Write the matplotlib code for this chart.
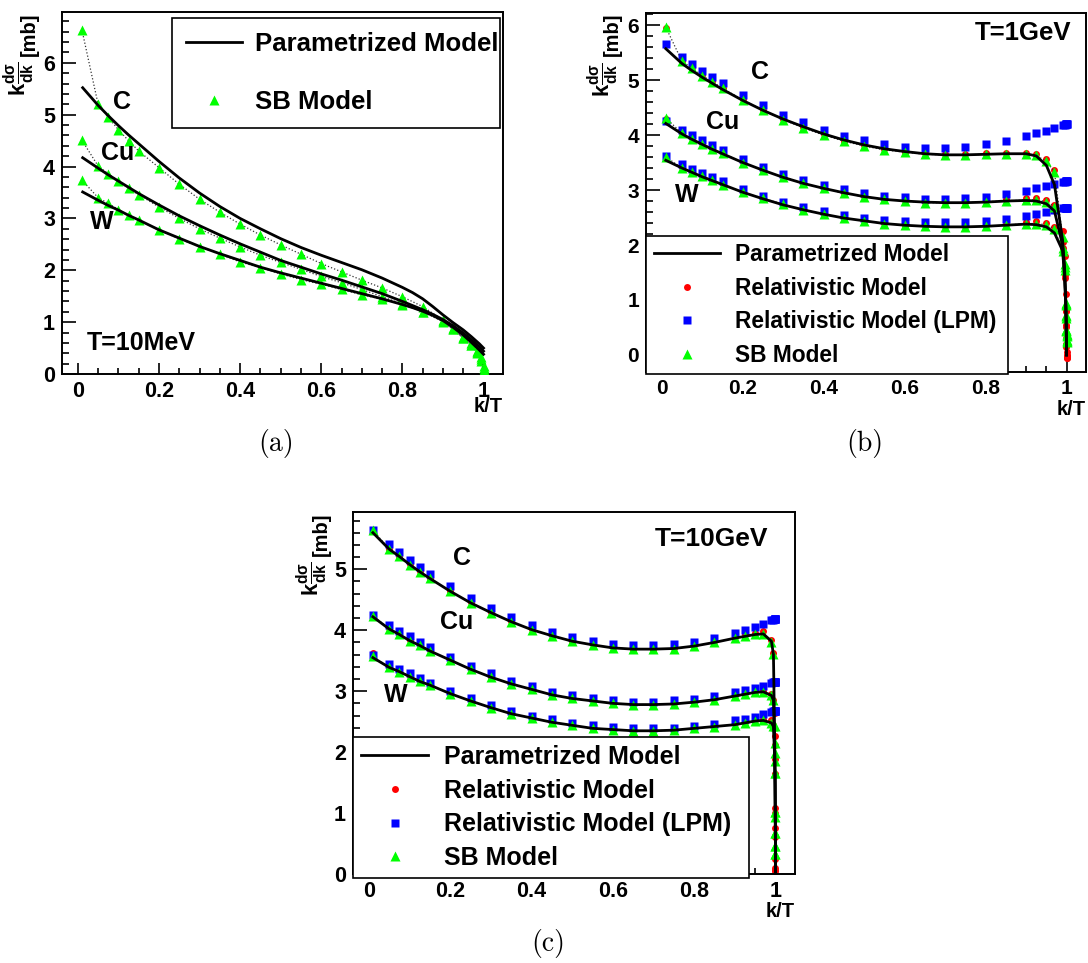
import matplotlib
matplotlib.use("Agg")
import matplotlib.pyplot as plt
from matplotlib.lines import Line2D
from matplotlib.ticker import MultipleLocator, FuncFormatter

plt.rcParams["font.family"] = ["Liberation Sans", "DejaVu Sans"]
plt.rcParams["font.weight"] = "bold"
plt.rcParams["axes.labelweight"] = "bold"
plt.rcParams["mathtext.fontset"] = "custom"
plt.rcParams["mathtext.rm"] = "Liberation Sans:bold"
plt.rcParams["mathtext.it"] = "Liberation Sans:bold"
plt.rcParams["mathtext.bf"] = "Liberation Sans:bold"
plt.rcParams["axes.linewidth"] = 1.4

elements = ["C", "Cu", "W"]

# -------------------- (a) T=10MeV --------------------
x_line_a = [0.012, 0.05, 0.075, 0.1, 0.125, 0.15, 0.2, 0.25, 0.3, 0.35, 0.4, 0.45, 0.5,
            0.55, 0.6, 0.65, 0.7, 0.75, 0.8, 0.825, 0.85, 0.875, 0.9, 0.925, 0.95,
            0.97, 0.99, 1.0]
param_a = {
    "C":  [5.52, 5.18, 4.98, 4.79, 4.61, 4.44, 4.10, 3.78, 3.49, 3.23, 3.00, 2.80, 2.61,
           2.44, 2.29, 2.15, 2.01, 1.85, 1.67, 1.57, 1.45, 1.30, 1.14, 0.99, 0.85,
           0.72, 0.58, 0.50],
    "Cu": [4.17, 3.97, 3.84, 3.72, 3.60, 3.48, 3.26, 3.05, 2.86, 2.68, 2.51, 2.35, 2.19,
           2.06, 1.93, 1.81, 1.68, 1.55, 1.40, 1.32, 1.24, 1.15, 1.05, 0.93, 0.79,
           0.66, 0.52, 0.44],
    "W":  [3.51, 3.35, 3.25, 3.16, 3.06, 2.97, 2.78, 2.62, 2.46, 2.32, 2.19, 2.06, 1.95,
           1.85, 1.75, 1.65, 1.55, 1.45, 1.34, 1.28, 1.21, 1.13, 1.03, 0.90, 0.75,
           0.61, 0.46, 0.38],
}
x_pts_a = [0.01, 0.05, 0.075, 0.1, 0.125, 0.15, 0.2, 0.25, 0.3, 0.35, 0.4, 0.45, 0.5,
           0.55, 0.6, 0.65, 0.7, 0.75, 0.8, 0.85, 0.9, 0.925, 0.95, 0.97, 0.985, 0.995, 1.0]
sb_a = {
    "C":  [6.64, 5.20, 4.95, 4.71, 4.50, 4.30, 3.98, 3.66, 3.37, 3.12, 2.89, 2.68, 2.49,
           2.31, 2.13, 1.97, 1.81, 1.66, 1.49, 1.30, 1.04, 0.88, 0.69, 0.55, 0.42, 0.25, 0.08],
    "Cu": [4.51, 4.01, 3.86, 3.72, 3.58, 3.46, 3.22, 3.00, 2.80, 2.62, 2.45, 2.29, 2.15,
           2.02, 1.88, 1.76, 1.63, 1.49, 1.35, 1.20, 1.01, 0.86, 0.71, 0.60, 0.45, 0.32, 0.15],
    "W":  [3.74, 3.40, 3.29, 3.17, 3.06, 2.97, 2.77, 2.61, 2.45, 2.31, 2.16, 2.05, 1.93,
           1.82, 1.73, 1.63, 1.53, 1.44, 1.34, 1.20, 1.02, 0.86, 0.69, 0.55, 0.40, 0.28, 0.12],
}

# -------------------- (b) T=1GeV --------------------
x_b = [0.01, 0.05, 0.075, 0.1, 0.125, 0.15, 0.2, 0.25, 0.3, 0.35, 0.4, 0.45, 0.5, 0.55,
       0.6, 0.65, 0.7, 0.75, 0.8, 0.85, 0.9, 0.925, 0.95, 0.97, 0.99, 0.995, 0.998,
       0.999, 0.9995, 0.9999, 1.0]
param_b = {
    "C":  [5.57, 5.30, 5.17, 5.05, 4.94, 4.83, 4.63, 4.45, 4.29, 4.15, 4.02, 3.91, 3.82,
           3.75, 3.70, 3.66, 3.64, 3.64, 3.65, 3.66, 3.66, 3.62, 3.45, 3.10, 2.10, 1.60,
           1.00, 0.60, 0.30, 0.05, 0.0],
    "Cu": [4.21, 4.02, 3.92, 3.83, 3.74, 3.66, 3.50, 3.36, 3.23, 3.12, 3.03, 2.95, 2.88,
           2.83, 2.80, 2.78, 2.77, 2.77, 2.78, 2.80, 2.81, 2.80, 2.75, 2.62, 2.00, 1.50,
           0.95, 0.60, 0.30, 0.05, 0.0],
    "W":  [3.54, 3.40, 3.32, 3.24, 3.17, 3.10, 2.96, 2.84, 2.73, 2.64, 2.56, 2.49, 2.44,
           2.39, 2.36, 2.34, 2.33, 2.33, 2.34, 2.36, 2.38, 2.37, 2.33, 2.22, 1.90, 1.45,
           0.90, 0.60, 0.30, 0.05, 0.0],
}
rel_b = {
    "C":  [5.95, 5.35, 5.23, 5.09, 4.98, 4.86, 4.65, 4.46, 4.29, 4.14, 4.01, 3.90, 3.81,
           3.74, 3.70, 3.67, 3.66, 3.66, 3.67, 3.68, 3.68, 3.66, 3.56, 3.37, 2.25, 1.80,
           1.10, 0.80, 0.30, 0.05, -0.06],
    "Cu": [4.30, 4.04, 3.94, 3.85, 3.76, 3.68, 3.51, 3.37, 3.25, 3.13, 3.04, 2.95, 2.89,
           2.84, 2.81, 2.79, 2.79, 2.79, 2.81, 2.83, 2.85, 2.85, 2.82, 2.72, 2.05, 1.45,
           0.85, 0.55, 0.20, 0.0, -0.04],
    "W":  [3.61, 3.41, 3.34, 3.26, 3.19, 3.11, 2.97, 2.86, 2.75, 2.65, 2.57, 2.50, 2.45,
           2.40, 2.37, 2.36, 2.35, 2.35, 2.36, 2.38, 2.42, 2.43, 2.40, 2.32, 1.95, 1.40,
           0.80, 0.50, 0.15, -0.02, -0.05],
}
lpm_b = {
    "C":  [5.65, 5.42, 5.30, 5.17, 5.05, 4.94, 4.72, 4.54, 4.37, 4.23, 4.10, 3.99, 3.91,
           3.84, 3.79, 3.76, 3.77, 3.79, 3.83, 3.89, 3.98, 4.03, 4.08, 4.13, 4.18, 4.19,
           4.20, 4.20, 4.21, 4.21, 4.21],
    "Cu": [4.25, 4.10, 4.00, 3.91, 3.82, 3.73, 3.57, 3.42, 3.30, 3.19, 3.09, 3.01, 2.94,
           2.90, 2.87, 2.84, 2.84, 2.85, 2.88, 2.93, 2.99, 3.03, 3.07, 3.11, 3.15, 3.15,
           3.16, 3.16, 3.16, 3.16, 3.16],
    "W":  [3.61, 3.47, 3.39, 3.31, 3.24, 3.16, 3.02, 2.90, 2.79, 2.70, 2.62, 2.55, 2.50,
           2.45, 2.43, 2.41, 2.41, 2.42, 2.44, 2.48, 2.53, 2.57, 2.60, 2.64, 2.67, 2.67,
           2.67, 2.67, 2.67, 2.67, 2.67],
}
sb_b = {
    "C":  [5.96, 5.34, 5.22, 5.08, 4.97, 4.85, 4.64, 4.45, 4.28, 4.13, 4.00, 3.89, 3.80,
           3.73, 3.69, 3.65, 3.64, 3.64, 3.65, 3.66, 3.65, 3.63, 3.52, 3.33, 2.15, 1.65,
           0.95, 0.72, 0.46, 0.38, 0.27],
    "Cu": [4.31, 4.03, 3.93, 3.84, 3.75, 3.67, 3.50, 3.36, 3.24, 3.12, 3.03, 2.94, 2.88,
           2.83, 2.80, 2.77, 2.77, 2.77, 2.79, 2.80, 2.82, 2.82, 2.79, 2.70, 1.95, 1.60,
           0.92, 0.70, 0.45, 0.36, 0.25],
    "W":  [3.60, 3.40, 3.33, 3.25, 3.18, 3.10, 2.96, 2.85, 2.74, 2.64, 2.56, 2.49, 2.44,
           2.39, 2.36, 2.34, 2.33, 2.33, 2.34, 2.36, 2.39, 2.39, 2.37, 2.29, 1.90, 1.55,
           0.90, 0.68, 0.44, 0.35, 0.24],
}

# -------------------- (c) T=10GeV --------------------
x_c = [0.01, 0.05, 0.075, 0.1, 0.125, 0.15, 0.2, 0.25, 0.3, 0.35, 0.4, 0.45, 0.5, 0.55,
       0.6, 0.65, 0.7, 0.75, 0.8, 0.85, 0.9, 0.925, 0.95, 0.97, 0.99, 0.995, 0.998,
       0.999, 0.9995, 0.9999, 1.0]
param_c = {
    "C":  [5.60, 5.33, 5.21, 5.08, 4.96, 4.85, 4.64, 4.45, 4.29, 4.14, 4.01, 3.91, 3.82,
           3.76, 3.71, 3.69, 3.69, 3.70, 3.74, 3.80, 3.87, 3.90, 3.93, 3.94, 3.82, 3.60,
           2.20, 1.60, 1.00, 0.40, 0.0],
    "Cu": [4.22, 4.02, 3.93, 3.83, 3.75, 3.66, 3.51, 3.36, 3.23, 3.12, 3.03, 2.94, 2.88,
           2.84, 2.80, 2.78, 2.78, 2.79, 2.82, 2.86, 2.92, 2.95, 2.98, 2.99, 2.93, 2.85,
           2.00, 1.50, 1.00, 0.40, 0.0],
    "W":  [3.55, 3.39, 3.32, 3.24, 3.16, 3.10, 2.96, 2.84, 2.73, 2.63, 2.56, 2.49, 2.44,
           2.39, 2.37, 2.35, 2.35, 2.36, 2.39, 2.42, 2.45, 2.48, 2.51, 2.52, 2.48, 2.42,
           1.90, 1.45, 0.95, 0.40, 0.0],
}
rel_c = {
    "C":  [5.63, 5.34, 5.22, 5.08, 4.97, 4.86, 4.65, 4.46, 4.30, 4.15, 4.02, 3.92, 3.83,
           3.77, 3.72, 3.70, 3.70, 3.71, 3.75, 3.82, 3.89, 3.93, 3.96, 3.98, 3.84, 3.63,
           2.26, 1.64, 1.09, 0.63, 0.07],
    "Cu": [4.25, 4.03, 3.94, 3.84, 3.76, 3.67, 3.52, 3.37, 3.24, 3.13, 3.04, 2.95, 2.89,
           2.85, 2.81, 2.79, 2.79, 2.80, 2.83, 2.88, 2.94, 2.97, 3.00, 3.01, 2.96, 2.86,
           2.12, 1.88, 0.76, 0.25, 0.05],
    "W":  [3.62, 3.40, 3.33, 3.25, 3.17, 3.11, 2.97, 2.85, 2.74, 2.64, 2.57, 2.50, 2.45,
           2.40, 2.38, 2.36, 2.36, 2.37, 2.40, 2.43, 2.47, 2.50, 2.53, 2.55, 2.52, 2.45,
           2.64, 1.64, 1.00, 0.60, 0.10],
}
lpm_c = {
    "C":  [5.64, 5.41, 5.29, 5.16, 5.04, 4.92, 4.72, 4.53, 4.36, 4.21, 4.08, 3.97, 3.89,
           3.82, 3.78, 3.76, 3.76, 3.78, 3.81, 3.88, 3.96, 4.01, 4.06, 4.11, 4.16, 4.17,
           4.18, 4.18, 4.18, 4.18, 4.18],
    "Cu": [4.25, 4.08, 3.99, 3.90, 3.81, 3.72, 3.56, 3.42, 3.29, 3.17, 3.08, 2.99, 2.93,
           2.88, 2.85, 2.83, 2.83, 2.85, 2.87, 2.92, 2.98, 3.02, 3.05, 3.09, 3.14, 3.15,
           3.15, 3.15, 3.15, 3.15, 3.15],
    "W":  [3.60, 3.45, 3.37, 3.29, 3.21, 3.14, 3.00, 2.88, 2.78, 2.68, 2.60, 2.54, 2.48,
           2.44, 2.41, 2.39, 2.39, 2.40, 2.43, 2.46, 2.52, 2.55, 2.58, 2.62, 2.66, 2.67,
           2.67, 2.67, 2.67, 2.67, 2.67],
}
sb_c = {
    "C":  [5.64, 5.33, 5.21, 5.07, 4.96, 4.85, 4.64, 4.45, 4.29, 4.14, 4.01, 3.91, 3.82,
           3.76, 3.71, 3.69, 3.69, 3.70, 3.74, 3.80, 3.87, 3.90, 3.94, 3.94, 3.80, 3.61,
           2.15, 1.65, 1.01, 0.68, 0.46],
    "Cu": [4.24, 4.02, 3.93, 3.83, 3.75, 3.66, 3.51, 3.36, 3.23, 3.12, 3.03, 2.94, 2.88,
           2.84, 2.80, 2.78, 2.78, 2.79, 2.82, 2.86, 2.92, 2.95, 2.98, 2.99, 2.93, 2.86,
           1.99, 1.85, 0.94, 0.46, 0.33],
    "W":  [3.57, 3.39, 3.32, 3.24, 3.16, 3.10, 2.96, 2.84, 2.73, 2.63, 2.56, 2.49, 2.44,
           2.39, 2.37, 2.35, 2.35, 2.36, 2.39, 2.42, 2.45, 2.48, 2.51, 2.52, 2.48, 2.43,
           2.43, 1.65, 1.01, 0.68, 0.33],
}

labels_ab = ["Parametrized Model", "Relativistic Model", "Relativistic Model (LPM)", "SB Model"]

W_PX, H_PX = 1088, 963
fig = plt.figure(figsize=(W_PX / 100, H_PX / 100), dpi=100)


def axes_px(l, t, r, b):
    return fig.add_axes([l / W_PX, 1 - b / H_PX, (r - l) / W_PX, (b - t) / H_PX])


def fmt(v, p):
    return f"{round(v, 6) + 0.0:g}"


def setup(ax, ylim, tsize, ylab_x, xlab_y):
    ax.set_xlim(-0.039, 1.048)
    ax.set_ylim(*ylim)
    ax.xaxis.set_major_locator(MultipleLocator(0.2))
    ax.xaxis.set_minor_locator(MultipleLocator(0.05))
    ax.yaxis.set_major_locator(MultipleLocator(1))
    ax.yaxis.set_minor_locator(MultipleLocator(0.2))
    ax.xaxis.set_major_formatter(FuncFormatter(fmt))
    ax.yaxis.set_major_formatter(FuncFormatter(fmt))
    ax.tick_params(which="both", direction="in", top=False, right=False, width=1.2)
    ax.tick_params(axis="y", which="major", length=10, labelsize=tsize, pad=5)
    ax.tick_params(axis="y", which="minor", length=5)
    ax.tick_params(axis="x", which="major", length=8, labelsize=tsize, pad=5)
    ax.tick_params(axis="x", which="minor", length=4)
    # y title: "[mb]" at the top, the k dsigma/dk part just below it
    h_px = ax.get_position().height * H_PX
    ax.text(ylab_x, 1.0, "[mb]", rotation=90, rotation_mode="anchor", ha="right",
            va="baseline", fontsize=14.5, transform=ax.transAxes)
    ax.set_ylabel(r"$k\frac{d\sigma}{dk}$", loc="top", fontsize=16)
    ax.yaxis.set_label_coords(ylab_x + 0.004, 1.0 - 49 / h_px)
    ax.set_xlabel("k/T", loc="right", fontsize=14.5)
    ax.xaxis.set_label_coords(1.0, xlab_y)


def draw(ax, x_line, param, x_pts, sb, rel=None, lpm=None):
    for el in elements:
        if rel is not None:
            ax.plot(x_pts, rel[el], "o", color="#ff0000", ms=5, mec="none", zorder=2)
        if lpm is not None:
            ax.plot(x_pts, lpm[el], "s", color="#0000ff", ms=5.5, mec="none", zorder=2)
        ax.plot(x_pts, sb[el], ls=":", lw=0.9, color="#333333", marker="^",
                mfc="#00ff00", mec="none", ms=6.5, zorder=3)
        ax.plot(x_line, param[el], "-", color="black", lw=2, zorder=4)


h_line = Line2D([], [], color="black", lw=2)
h_rel = Line2D([], [], ls="none", marker="o", color="#ff0000", ms=5, mec="none")
h_lpm = Line2D([], [], ls="none", marker="s", color="#0000ff", ms=5.5, mec="none")
h_sb = Line2D([], [], ls="none", marker="^", color="#00ff00", ms=6.5, mec="none")

# (a)
ax_a = axes_px(62, 12, 503, 374)
draw(ax_a, x_line_a, param_a, x_pts_a, sb_a)
setup(ax_a, (0, 6.98), 15.5, -0.062, -0.064)
for el, (tx, ty) in zip(elements, [(0.109, 5.24), (0.097, 4.26), (0.058, 2.93)]):
    ax_a.text(tx, ty, el, fontsize=18, ha="center", va="center")
ax_a.text(0.022, 0.6, "T=10MeV", fontsize=18, ha="left", va="center")
leg = ax_a.legend([h_line, h_sb], ["Parametrized Model", "SB Model"], loc="upper left",
                  bbox_to_anchor=(0.249, 0.685, 0.744, 0.298), mode="expand",
                  borderaxespad=0, fancybox=False, edgecolor="black", framealpha=1,
                  fontsize=18.5, handlelength=2.2, handletextpad=0.5,
                  labelspacing=1.3, borderpad=0.55)
leg.get_frame().set_linewidth(1.2)

# (b)
ax_b = axes_px(646, 13, 1086, 372)
draw(ax_b, x_b, param_b, x_b, sb_b, rel_b, lpm_b)
setup(ax_b, (-0.31, 6.22), 15, -0.064, -0.078)
for el, (tx, ty) in zip(elements, [(0.242, 5.15), (0.151, 4.24), (0.061, 2.91)]):
    ax_b.text(tx, ty, el, fontsize=18, ha="center", va="center")
ax_b.text(0.967, 0.944, "T=1GeV", fontsize=18.5, ha="right", va="center",
          transform=ax_b.transAxes)
leg = ax_b.legend([h_line, h_rel, h_lpm, h_sb], labels_ab, loc="upper left",
                  bbox_to_anchor=(0, 0.005, 0.822, 0.375), mode="expand",
                  borderaxespad=0, fancybox=False, edgecolor="black", framealpha=1,
                  fontsize=16.4, handlelength=2.9, handletextpad=0.66,
                  labelspacing=0.46, borderpad=0.33)
leg.get_frame().set_linewidth(1.2)

# (c)
ax_c = axes_px(353, 512, 795, 874)
draw(ax_c, x_c, param_c, x_c, sb_c, rel_c, lpm_c)
setup(ax_c, (0, 5.94), 15.5, -0.059, -0.077)
for el, (tx, ty) in zip(elements, [(0.23, 5.18), (0.217, 4.13), (0.066, 2.93)]):
    ax_c.text(tx, ty, el, fontsize=18, ha="center", va="center")
ax_c.text(0.939, 0.925, "T=10GeV", fontsize=19, ha="right", va="center",
          transform=ax_c.transAxes)
leg = ax_c.legend([h_line, h_rel, h_lpm, h_sb], labels_ab, loc="upper left",
                  bbox_to_anchor=(0, 0.002, 0.897, 0.376), mode="expand",
                  borderaxespad=0, fancybox=False, edgecolor="black", framealpha=1,
                  fontsize=18, handlelength=2.7, handletextpad=0.64,
                  labelspacing=0.39, borderpad=0.31)
leg.get_frame().set_linewidth(1.2)

# sub-figure labels
for lab, (px, py) in zip(["(a)", "(b)", "(c)"], [(276, 443), (865, 443), (548, 943)]):
    fig.text(px / W_PX, 1 - py / H_PX, lab, fontsize=20, family="cmr10",
             fontweight="normal", ha="center", va="center")

fig.savefig("out.png", dpi=100)
